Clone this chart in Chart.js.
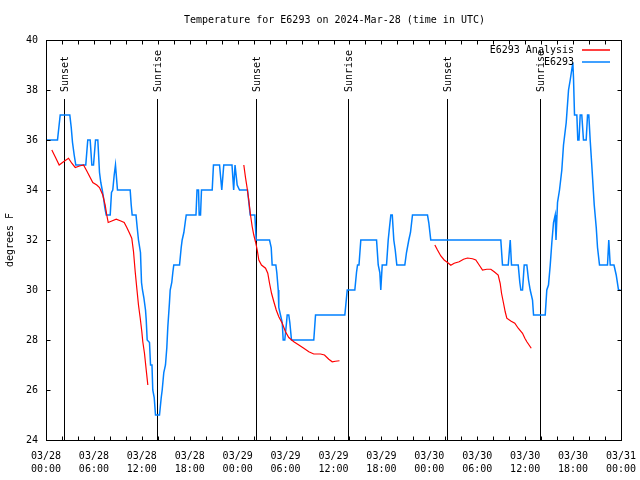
<!DOCTYPE html>
<html>
<head>
<meta charset="utf-8">
<title>E6293 temperature</title>
<script src="https://cdn.jsdelivr.net/npm/chart.js@4.4.1/dist/chart.umd.min.js"></script>
<style>
  body { margin: 0; background: #fff; }
  #wrap { width: 640px; height: 480px; }
</style>
</head>
<body>
<div id="wrap"><canvas id="tempChart" width="640" height="480"></canvas></div>
<script>
// hours since 03/28 00:00 UTC
const obsHours = [0, 1.44, 1.78, 2.98, 3.16, 3.32, 3.53, 3.73, 4.98, 5.23, 5.53, 5.74, 5.95, 6.2, 6.49,
  6.7, 6.86, 7.04, 7.2, 7.36, 7.54, 8.04, 8.2, 8.36, 8.54, 8.7, 8.95, 10.54, 10.67, 10.79, 11.27,
  11.42, 11.58, 11.83, 11.96, 12.08, 12.25, 12.46, 12.55, 12.67, 12.96, 13.09, 13.27, 13.37, 13.55,
  13.71, 14.21, 14.43, 14.55, 14.75, 14.96, 15.13, 15.25, 15.46, 15.55, 15.75, 15.88, 16.0, 16.72,
  16.93, 17.05, 17.26, 17.43, 17.56, 18.78, 18.91, 19.1, 19.18, 19.35, 19.47, 20.81, 20.97, 21.73,
  22.01, 22.26, 23.29, 23.5, 23.67, 23.73, 23.94, 24.23, 25.23, 25.4, 25.57, 26.15, 26.32, 27.99,
  28.2, 28.32, 28.78, 28.9, 29.08, 29.15, 29.36, 29.58, 29.7, 29.9, 30.12, 30.2, 30.4, 30.53, 30.74,
  33.53, 33.75, 37.42, 37.72, 38.67, 38.88, 39.01, 39.19, 39.42, 41.39, 41.6, 41.8, 41.92, 42.1,
  42.64, 42.85, 43.01, 43.18, 43.36, 43.55, 43.73, 43.93, 44.93, 45.14, 45.43, 45.64, 45.89, 47.77,
  47.93, 48.18, 56.95, 57.16, 57.88, 58.13, 58.29, 59.13, 59.33, 59.46, 59.67, 59.88, 60.04, 60.21,
  60.42, 60.63, 60.92, 61.05, 62.51, 62.71, 62.92, 63.14, 63.34, 63.55, 63.76, 63.86, 64.05, 64.3,
  64.59, 64.8, 65.14, 65.43, 65.64, 65.97, 66.05, 66.18, 66.47, 66.59, 66.74, 66.89, 67.09, 67.3,
  67.64, 67.81, 67.97, 68.14, 68.34, 68.65, 68.9, 69.06, 69.31, 70.31, 70.47, 70.65, 71.12, 71.4,
  71.69, 71.94];
const obsTemps = [36, 36, 37, 37, 36.5, 35.9, 35.4, 35, 35, 36, 36, 35, 35, 36, 36,
  34.7, 34.3, 34, 33.7, 33.3, 33, 33, 33.9, 34, 34.6, 35, 34, 34, 33.4, 33, 33,
  32.5, 32, 31.5, 30.3, 30, 29.7, 29.2, 28.8, 28, 27.9, 27, 27, 26, 25.7,
  25, 25, 25.7, 26, 26.7, 27, 27.7, 28.5, 29.5, 30, 30.3, 30.7, 31, 31,
  31.7, 32, 32.3, 32.7, 33, 33, 34, 34, 33, 33, 34, 34, 35, 35,
  34, 35, 35, 34, 35, 35, 34.2, 34, 34, 33.5, 33, 33, 32, 32,
  31.7, 31, 31, 30.7, 30, 29.3, 29, 28.7, 28, 28, 28.7, 29, 29, 28.7, 28,
  28, 29, 29, 30, 30, 30.7, 31, 31, 32, 32, 31, 30.7, 30, 31,
  31, 32, 32.5, 33, 33, 32, 31.6, 31, 31, 31.5, 32, 32.3, 33, 33,
  32.7, 32, 32, 31, 31, 32, 31, 31, 30.3, 30, 30, 31, 31, 31,
  30.4, 30, 29.6, 29, 29, 30, 30.2, 31, 31.9, 32.7, 33, 32, 33.5, 34,
  34.8, 35.8, 36.7, 38, 38.4, 39.1, 38.5, 37, 37, 36, 36, 37, 37, 36,
  36, 37, 37, 36, 35, 33.4, 32.5, 31.7, 31, 31, 32, 31, 31, 30.6,
  30, 30];

// analysis runs; null temp breaks the line between runs
const anaHours = [0.73, 1.15, 1.65, 2.19, 2.82, 3.23, 3.66, 4.19, 4.70, 5.11, 5.53, 5.86, 6.36, 6.70,
  7.11, 7.41, 7.61, 7.79, 8.24, 8.79, 9.37, 9.79, 10.12, 10.46, 10.74, 10.96, 11.17, 11.37, 11.58,
  11.80, 12.00, 12.12, 12.33, 12.55, 12.75,
  18,
  24.77, 24.98, 25.19, 25.39, 25.61, 25.82, 26.02, 26.23, 26.45, 26.65, 26.98, 27.49, 27.77, 27.99,
  28.24, 28.53, 28.83, 29.15, 29.58, 29.99, 30.4, 31.03, 31.66, 32.28, 32.91, 33.53, 34.37, 34.87,
  35.41, 35.84, 36.25, 36.75,
  42,
  48.69, 49.02, 49.44, 49.86, 50.28, 50.69, 51.11, 51.74, 52.28, 52.78, 53.41, 53.82, 54.24, 54.66,
  55.2, 55.7, 56.12, 56.62, 56.87, 57.04, 57.29, 57.5, 57.7, 58.2, 58.7, 59.13, 59.67, 59.96, 60.21,
  60.76];
const anaTemps = [35.6, 35.33, 35.0, 35.13, 35.27, 35.07, 34.9, 34.96, 35.0, 34.76, 34.5, 34.3, 34.2, 34.1,
  33.8, 33.4, 33.0, 32.7, 32.76, 32.83, 32.76, 32.7, 32.5, 32.27, 32.07, 31.53, 30.73, 30.07, 29.4,
  28.87, 28.33, 27.93, 27.47, 26.8, 26.2,
  null,
  35.0, 34.5, 34.07, 33.6, 33.0, 32.53, 32.2, 31.93, 31.6, 31.2, 31.0, 30.87, 30.67, 30.27,
  29.87, 29.53, 29.2, 28.93, 28.67, 28.33, 28.1, 27.93, 27.8, 27.67, 27.53, 27.44, 27.44, 27.4,
  27.23, 27.13, 27.15, 27.17,
  null,
  31.8, 31.6, 31.36, 31.2, 31.1, 30.99, 31.07, 31.13, 31.23, 31.28, 31.25, 31.2, 31.0, 30.8,
  30.83, 30.83, 30.73, 30.6, 30.27, 29.87, 29.47, 29.13, 28.87, 28.76, 28.67, 28.47, 28.27, 28.07, 27.93,
  27.67];

const sunHours = [2.23, 13.87, 26.27, 37.79, 50.19, 61.83];
const sunLabels = ["Sunset", "Sunrise", "Sunset", "Sunrise", "Sunset", "Sunrise"];

const xTickDates = ["03/28", "03/28", "03/28", "03/28", "03/29", "03/29", "03/29", "03/29",
  "03/30", "03/30", "03/30", "03/30", "03/31"];
const xTickTimes = ["00:00", "06:00", "12:00", "18:00", "00:00", "06:00", "12:00", "18:00",
  "00:00", "06:00", "12:00", "18:00", "00:00"];

const FONT = "DejaVu Sans Mono";
const RED = "#ff0000";
const BLUE = "#0080ff";

function toPoints(xs, ys) {
  return xs.map((x, i) => ({ x: x, y: ys[i] }));
}

// gnuplot-ish frame: inward ticks, sun lines, title, legend
const gnuFrame = {
  id: "gnuFrame",
  beforeDatasetsDraw(chart) {
    const ctx = chart.ctx;
    const xs = chart.scales.x;
    const area = chart.chartArea;
    ctx.save();
    ctx.strokeStyle = "#000";
    ctx.lineWidth = 1;
    ctx.fillStyle = "#000";
    ctx.font = "10px '" + FONT + "'";
    sunHours.forEach((h, i) => {
      const px = Math.round(xs.getPixelForValue(h)) + 0.5;
      ctx.beginPath();
      ctx.moveTo(px, 99);
      ctx.lineTo(px, area.bottom);
      ctx.stroke();
      ctx.save();
      ctx.translate(px + 1, 92);
      ctx.rotate(-Math.PI / 2);
      ctx.textAlign = "left";
      ctx.textBaseline = "middle";
      ctx.fillText(sunLabels[i], 0, 0);
      ctx.restore();
    });
    ctx.restore();
  },
  afterDraw(chart) {
    const ctx = chart.ctx;
    const xs = chart.scales.x;
    const ys = chart.scales.y;
    const a = chart.chartArea;
    const L = Math.round(a.left) + 0.5, R = Math.round(a.right) + 0.5;
    const T = Math.round(a.top) + 0.5, B = Math.round(a.bottom) + 0.5;
    ctx.save();
    ctx.strokeStyle = "#000";
    ctx.lineWidth = 1;
    ctx.strokeRect(L, T, R - L, B - T);
    ctx.beginPath();
    for (let h = 0; h <= 72; h += 2) {
      const px = Math.round(xs.getPixelForValue(h)) + 0.5;
      ctx.moveTo(px, B); ctx.lineTo(px, B - 4);
      ctx.moveTo(px, T); ctx.lineTo(px, T + 4);
    }
    for (let t = 24; t <= 40; t += 2) {
      const py = Math.round(ys.getPixelForValue(t)) + 0.5;
      ctx.moveTo(L, py); ctx.lineTo(L + 4, py);
      ctx.moveTo(R, py); ctx.lineTo(R - 4, py);
    }
    ctx.stroke();

    ctx.fillStyle = "#000";
    ctx.font = "10px '" + FONT + "'";
    ctx.textAlign = "center";
    ctx.textBaseline = "middle";
    ctx.fillText("Temperature for E6293 on 2024-Mar-28 (time in UTC)", (a.left + a.right) / 2 + 1, 20);

    ctx.save();
    ctx.translate(10, 240);
    ctx.rotate(-Math.PI / 2);
    ctx.fillText("degrees F", 0, 0);
    ctx.restore();

    // legend
    const keyColors = [RED, BLUE];
    ctx.textAlign = "right";
    chart.data.datasets.forEach((ds, i) => {
      const y = 50 + i * 12;
      ctx.fillStyle = "#000";
      ctx.fillText(ds.label, 574, y);
      ctx.strokeStyle = keyColors[i];
      ctx.lineWidth = 1.5;
      ctx.beginPath();
      ctx.moveTo(582, y);
      ctx.lineTo(610, y);
      ctx.stroke();
    });
    ctx.restore();
  }
};

const ctx = document.getElementById("tempChart").getContext("2d");
new Chart(ctx, {
  type: "line",
  data: {
    datasets: [
      {
        label: "E6293 Analysis",
        data: toPoints(anaHours, anaTemps),
        borderColor: RED,
        borderWidth: 1.2,
        pointRadius: 0,
        tension: 0,
        spanGaps: false
      },
      {
        label: "E6293",
        data: toPoints(obsHours, obsTemps),
        borderColor: BLUE,
        borderWidth: 1.5,
        pointRadius: 0,
        tension: 0
      }
    ]
  },
  options: {
    responsive: false,
    animation: false,
    devicePixelRatio: 1,
    layout: { padding: { top: 40, right: 19, left: 0, bottom: 0 } },
    plugins: {
      legend: { display: false },
      tooltip: { enabled: false }
    },
    scales: {
      x: {
        type: "linear",
        min: 0,
        max: 72,
        grid: { display: false, drawTicks: false },
        border: { display: false },
        ticks: {
          stepSize: 6,
          autoSkip: false,
          maxRotation: 0,
          padding: 10,
          color: "#000",
          font: { family: FONT, size: 10, lineHeight: 1.3 },
          callback: function(v) {
            const i = Math.round(v / 6);
            return [xTickDates[i], xTickTimes[i]];
          }
        },
        afterFit: function(s) {
          s.height = 40;
          s.paddingLeft = 0;
          s.paddingRight = 0;
        }
      },
      y: {
        min: 24,
        max: 40,
        grid: { display: false, drawTicks: false },
        border: { display: false },
        ticks: {
          stepSize: 2,
          padding: 8,
          color: "#000",
          font: { family: FONT, size: 10 }
        },
        afterFit: function(s) {
          s.width = 46;
          s.paddingTop = 0;
          s.paddingBottom = 0;
        }
      }
    }
  },
  plugins: [gnuFrame]
});
</script>
</body>
</html>
